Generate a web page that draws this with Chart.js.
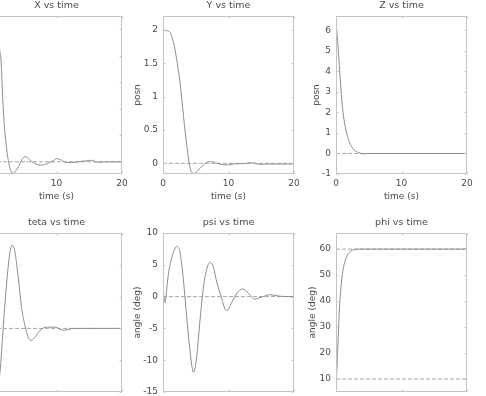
<!DOCTYPE html>
<html>
<head>
<meta charset="UTF-8">
<title>states vs time</title>
<style>
  body { margin: 0; width: 486px; height: 396px; overflow: hidden; background: #fff; position: relative; }
  canvas { position: absolute; }
</style>
</head>
<body>
<script src="https://cdn.jsdelivr.net/npm/chart.js"></script>
<script>
// values (time in s)
const xTime = [0, 0.6, 1.1, 1.37, 1.53, 1.7, 1.88, 2.08, 2.29, 2.45, 2.64, 2.95, 3.31, 3.7, 4.17, 4.7, 5.19, 5.55, 5.95, 6.5, 6.97, 7.5, 7.99, 8.7, 9.5, 10.0, 10.6, 11.2, 12.0, 12.8, 13.8, 14.8, 15.3, 15.8, 16.3, 17.5, 20];
const xPosn = [5, 4.95, 4.6, 4.15, 3.84, 2.9, 1.95, 1.25, 0.71, 0.35, 0.06, -0.28, -0.43, -0.37, -0.19, 0.07, 0.19, 0.16, 0.06, -0.04, -0.09, -0.12, -0.12, -0.05, 0.04, 0.12, 0.08, 0, -0.03, -0.02, 0.02, 0.04, 0.06, 0.02, -0.02, 0, 0];

const yTime = [0, 0.5, 1.1, 1.5, 1.87, 2.25, 2.63, 3.14, 3.65, 4.15, 4.66, 5.0, 5.4, 6.2, 6.8, 7.4, 8.0, 8.7, 9.7, 10.7, 11.8, 12.8, 13.3, 14.0, 14.8, 16, 20];
const yPosn = [2, 1.99, 1.96, 1.85, 1.69, 1.45, 1.19, 0.7, 0.25, -0.075, -0.15, -0.14, -0.1, -0.02, 0.02, 0.025, 0.01, -0.01, -0.025, -0.01, -0.005, 0, 0.01, 0, -0.015, -0.01, -0.01];

const zTime = [0, 0.25, 0.5, 0.77, 1.0, 1.25, 1.5, 2.0, 2.75, 3.5, 4.2, 5, 20];
const zPosn = [6.3, 5.5, 4.3, 3.1, 2.2, 1.6, 1.15, 0.58, 0.18, 0.04, -0.02, 0, 0];

const tetaTime = [0, 0.6, 1.0, 1.37, 1.88, 2.4, 2.9, 3.25, 3.66, 4.17, 4.69, 5.19, 5.69, 6.1, 6.7, 7.5, 8.5, 9.76, 11.0, 12.8, 20];
const tetaAngle = [-14.5, -14.8, -14, -11.9, -4.6, 2.3, 7.0, 8.1, 7.0, 2.9, -1.9, -4.6, -6.4, -6.9, -6.4, -5.3, -4.8, -4.8, -5.3, -5, -5];

const psiTime = [0, 0.2, 0.35, 0.5, 0.86, 1.37, 1.8, 2.1, 2.35, 2.6, 3.1, 3.6, 4.15, 4.45, 4.66, 4.9, 5.16, 5.67, 6.2, 6.7, 7.2, 7.7, 8.2, 9.0, 9.4, 9.7, 10.1, 10.5, 11.2, 11.7, 12.2, 12.8, 13.3, 14, 15, 16.3, 17.3, 18.6, 20];
const psiAngle = [0, -0.3, -1.0, 0.5, 3.8, 6.2, 7.5, 7.9, 7.7, 7.0, 2.8, -3.0, -8.8, -11.2, -11.9, -11.2, -9.3, -3.5, 1.7, 4.4, 5.4, 4.6, 2.3, -0.4, -1.8, -2.2, -1.8, -0.9, 0.4, 1.0, 1.2, 0.8, 0.2, -0.4, -0.1, 0.3, 0.15, 0, 0];

const phiTime = [0, 0.1, 0.26, 0.4, 0.51, 0.77, 1.03, 1.3, 1.54, 2.05, 2.8, 3.6, 20];
const phiAngle = [10, 12, 21.2, 30, 36.6, 45.6, 51.4, 54.6, 56.6, 58.8, 59.8, 60, 60];

// reference (set-point) levels, drawn dashed
const xRef = [0], yRef = [0], zRef = [0], tetaRef = [-5], psiRef = [0], phiRef = [10, 60];

const titles = ['X vs time', 'Y vs time', 'Z vs time', 'teta vs time', 'psi vs time', 'phi vs time'];
const yLabels = ['posn', 'posn', 'posn', 'angle (deg)', 'angle (deg)', 'angle (deg)'];
const xLabel = 'time (s)';
const yLimits = [[-0.46, 5.5, 1], [-0.16, 2.21, 0.5], [-1, 6.7, 1], [-15, 10, 5], [-15, 10, 5], [5, 66.2, 10]];

// plot boxes in the window: left, top, width, height; and y-label distance
const cells = [
  [-9, 16, 131, 158], [163, 16, 131, 158], [336, 16, 131, 158],
  [-9, 233, 131, 159], [163, 233, 131, 159], [336, 233, 131, 159]
];
const yTitleGap = [26, 26, 20, 26, 26, 24];

const FONT = 'DejaVu Sans';
const INK = '#4a4a4a';
const CURVE = '#8c8c8c';
const REF = '#a6a6a6';
const BOX = '#c4c4c4';

// MATLAB style box with inward ticks on all sides
const frame = {
  id: 'frame',
  afterDatasetsDraw(chart) {
    const { ctx, chartArea: a, scales } = chart;
    const L = Math.round(a.left) + 0.5, R = Math.round(a.right) - 0.5;
    const T = Math.round(a.top) + 0.5, B = Math.round(a.bottom) - 0.5;
    ctx.save();
    ctx.strokeStyle = BOX;
    ctx.lineWidth = 1;
    ctx.strokeRect(L, T, R - L, B - T);
    ctx.beginPath();
    scales.x.ticks.forEach(t => {
      const px = Math.round(scales.x.getPixelForValue(t.value)) + 0.5;
      ctx.moveTo(px, B); ctx.lineTo(px, B - 2);
      ctx.moveTo(px, T); ctx.lineTo(px, T + 2);
    });
    scales.y.ticks.forEach(t => {
      const py = Math.round(scales.y.getPixelForValue(t.value)) + 0.5;
      ctx.moveTo(L, py); ctx.lineTo(L + 2, py);
      ctx.moveTo(R, py); ctx.lineTo(R - 2, py);
    });
    ctx.stroke();
    ctx.restore();
  }
};

function makePanel(i, t, v, refs) {
  const [left, top, w, h] = cells[i];
  const W = yTitleGap[i] + 5;
  const H = 28;
  const cv = document.createElement('canvas');
  cv.width = 2 * W + w;
  cv.height = 16 + h + H;
  cv.style.left = (left - W) + 'px';
  cv.style.top = (top - 16) + 'px';
  document.body.appendChild(cv);

  const datasets = [{
    data: t.map((x, k) => ({ x: x, y: v[k] })),
    borderColor: CURVE, borderWidth: 1, pointRadius: 0,
    cubicInterpolationMode: 'monotone'
  }];
  refs.forEach(r => datasets.push({
    data: [{ x: 0, y: r }, { x: 20, y: r }],
    borderColor: REF, borderWidth: 1, borderDash: [4, 2], pointRadius: 0
  }));

  const [yMin, yMax, yStep] = yLimits[i];
  const font = { family: FONT, size: 9, weight: 'normal' };
  new Chart(cv, {
    type: 'scatter',
    data: { datasets: datasets },
    options: {
      responsive: false,
      animation: false,
      showLine: true,
      layout: { padding: 0 },
      plugins: {
        legend: { display: false },
        tooltip: { enabled: false },
        title: { display: true, text: titles[i], color: INK, font: { family: FONT, size: 9.5, weight: 'normal', lineHeight: 1.2 }, padding: { top: 0, bottom: 4.6 } }
      },
      scales: {
        x: {
          type: 'linear', min: 0, max: 20,
          grid: { display: false, drawTicks: false }, border: { display: false },
          ticks: { stepSize: 10, color: INK, font: font, padding: 4, maxRotation: 0 },
          title: { display: i < 3, text: xLabel, color: INK, font: font, padding: 0 },
          afterFit: s => { s.height = H; }
        },
        y: {
          type: 'linear', min: yMin, max: yMax,
          grid: { display: false, drawTicks: false }, border: { display: false },
          ticks: { stepSize: yStep, includeBounds: false, color: INK, font: font, padding: 5, callback: val => String(val) },
          title: { display: true, text: yLabels[i], color: INK, font: font, padding: 0 },
          afterFit: s => { s.width = W; }
        },
        y2: {
          type: 'linear', position: 'right', min: yMin, max: yMax,
          grid: { display: false, drawTicks: false }, border: { display: false },
          ticks: { display: false },
          afterFit: s => { s.width = W; }
        }
      }
    },
    plugins: [frame]
  });
}

makePanel(0, xTime, xPosn, xRef);
makePanel(1, yTime, yPosn, yRef);
makePanel(2, zTime, zPosn, zRef);
makePanel(3, tetaTime, tetaAngle, tetaRef);
makePanel(4, psiTime, psiAngle, psiRef);
makePanel(5, phiTime, phiAngle, phiRef);
</script>
</body>
</html>
